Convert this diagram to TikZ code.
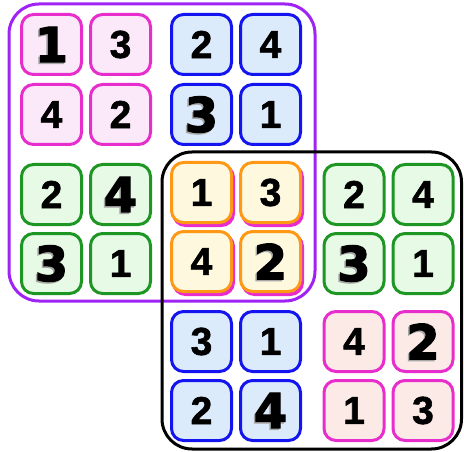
\documentclass[tikz,border=0pt]{standalone}
\usepackage{fontspec}
\newfontfamily\digitfont[FakeBold=1.5]{Liberation Sans Bold}
\newfontfamily\hwfont[FakeBold=2.5]{DejaVu Sans Bold}
\newcommand{\dg}[1]{{\digitfont\fontsize{39}{39}\selectfont #1}}
\definecolor{cmag}{RGB}{232,45,205}
\definecolor{cblue}{RGB}{20,20,240}
\definecolor{cgreen}{RGB}{30,150,35}
\definecolor{corange}{RGB}{255,152,20}
\definecolor{cpurple}{RGB}{160,35,245}
\definecolor{fmag}{RGB}{251,233,250}
\definecolor{fblue}{RGB}{220,235,251}
\definecolor{fgreen}{RGB}{230,250,230}
\definecolor{forange}{RGB}{253,248,222}
\definecolor{fpink}{RGB}{252,234,230}
\tikzset{
  cellbox/.style={draw, line width=3pt, rounded corners=12pt, minimum size=60pt, inner sep=0pt},
  cellM/.style={cellbox, draw=cmag, fill=fmag},
  cellB/.style={cellbox, draw=cblue, fill=fblue},
  cellG/.style={cellbox, draw=cgreen, fill=fgreen},
  cellO/.style={cellbox, draw=corange, fill=forange},
  cellS/.style={cellbox, draw=cmag, fill=cmag},
  cellP/.style={cellbox, draw=cmag, fill=fpink},
  hwtext/.style={inner sep=0pt, text=black},
  hwshadow/.style={inner sep=0pt, text=black!35},
  framebox/.style={line width=3pt, rounded corners=30pt}
}
\newcommand{\hwdigit}[3]{%
  \node[hwshadow] at ([xshift=-1.5pt,yshift=-1.5pt]#1) {\hwfont\fontsize{48}{48}\selectfont #3};
  \node[hwtext] (#2) at (#1) {\hwfont\fontsize{48}{48}\selectfont #3};}
\begin{document}
\begin{tikzpicture}[x=1pt,y=-1pt]
\useasboundingbox (0,0) rectangle (464,452);
% purple frame
\draw[framebox, cpurple] (9,4) rectangle (315,301);
% top-left magenta block
\node[cellM] (a11) at (51.5,44.5) {};
\hwdigit{a11}{d11}{1}
\node[cellM] (a12) at (120.5,44.5) {\dg{3}};
\node[cellM] (a21) at (51.5,114.5) {\dg{4}};
\node[cellM] (a22) at (120.5,114.5) {\dg{2}};
% top-right blue block
\node[cellB] (a13) at (201.5,44.5) {\dg{2}};
\node[cellB] (a14) at (270.5,44.5) {\dg{4}};
\node[cellB] (a23) at (201.5,114.5) {};
\hwdigit{a23}{d23}{3}
\node[cellB] (a24) at (270.5,114.5) {\dg{1}};
% middle-left green block
\node[cellG] (a31) at (51.5,194.5) {\dg{2}};
\node[cellG] (a32) at (120.5,194.5) {};
\hwdigit{a32}{d32}{4}
\node[cellG] (a41) at (51.5,263.5) {};
\hwdigit{a41}{d41}{3}
\node[cellG] (a42) at (120.5,263.5) {\dg{1}};
% black frame
\draw[framebox, black] (162,152) rectangle (461.5,449);
% orange block with magenta shadow
\node[cellS] (s33) at (203.5,195.5) {};
\node[cellS] (s34) at (272.5,195.5) {};
\node[cellS] (s43) at (203.5,264.5) {};
\node[cellS] (s44) at (272.5,264.5) {};
\node[cellO] (a33) at (201.5,192.5) {\dg{1}};
\node[cellO] (a34) at (270.5,192.5) {\dg{3}};
\node[cellO] (a43) at (201.5,261.5) {\dg{4}};
\node[cellO] (a44) at (270.5,261.5) {};
\hwdigit{a44}{d44}{2}
% right green block
\node[cellG] (a35) at (354,194.5) {\dg{2}};
\node[cellG] (a36) at (423,194.5) {\dg{4}};
\node[cellG] (a45) at (354,263.5) {};
\hwdigit{a45}{d45}{3}
\node[cellG] (a46) at (423,263.5) {\dg{1}};
% bottom blue block
\node[cellB] (a53) at (201.5,341.5) {\dg{3}};
\node[cellB] (a54) at (270.5,341.5) {\dg{1}};
\node[cellB] (a63) at (201.5,410.5) {\dg{2}};
\node[cellB] (a64) at (270.5,410.5) {};
\hwdigit{a64}{d64}{4}
% bottom-right pink block
\node[cellP] (a55) at (354,341.5) {\dg{4}};
\node[cellP] (a56) at (423,341.5) {};
\hwdigit{a56}{d56}{2}
\node[cellP] (a65) at (354,410.5) {\dg{1}};
\node[cellP] (a66) at (423,410.5) {\dg{3}};
\end{tikzpicture}
\end{document}
